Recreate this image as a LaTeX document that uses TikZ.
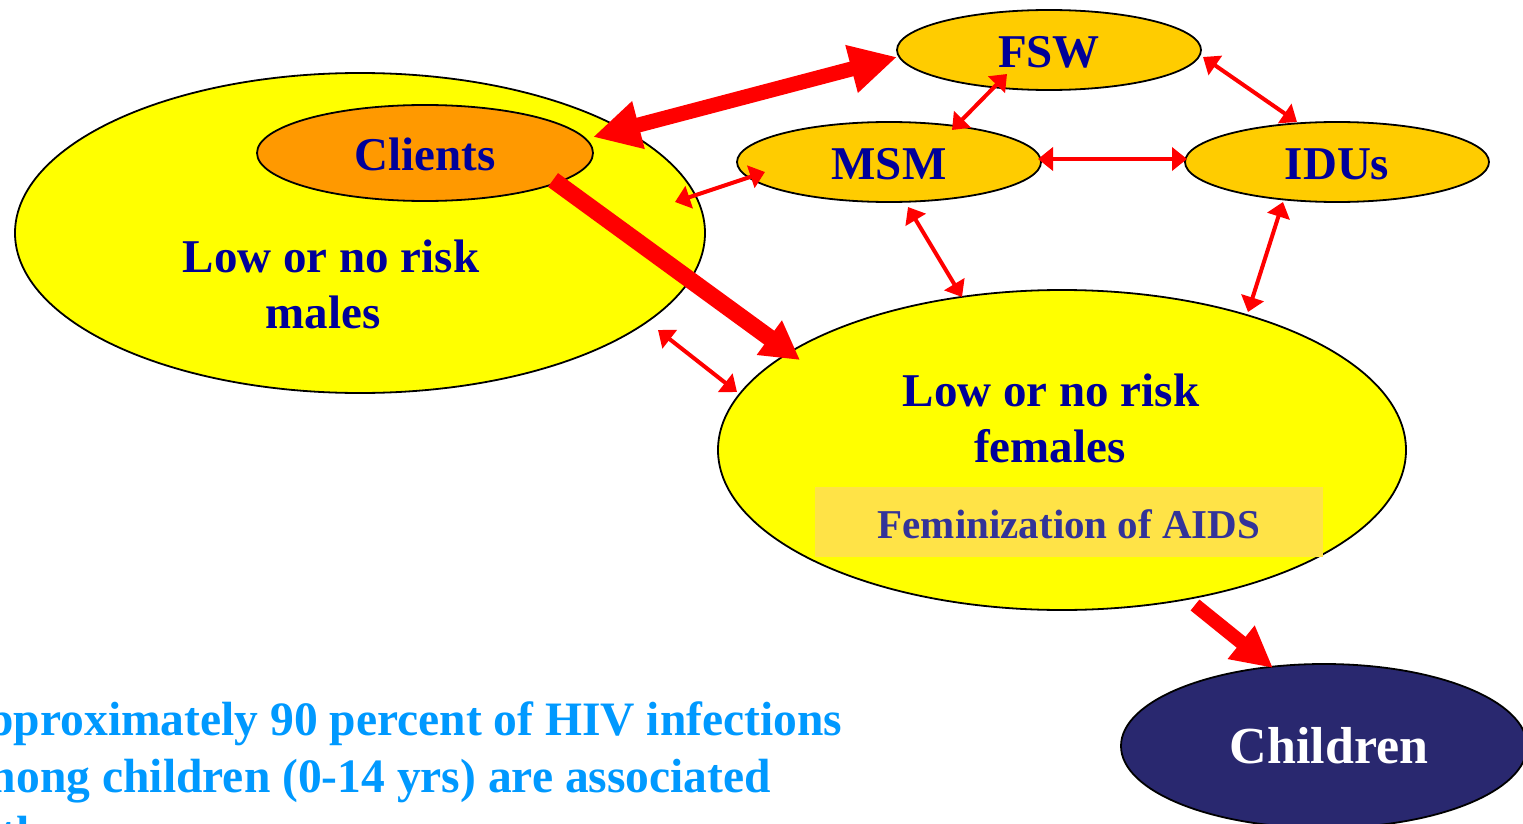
\documentclass[tikz,border=0pt]{standalone}
\usepackage{fontspec}
\setmainfont{Liberation Serif}
\newfontfamily\notefont[FakeStretch=0.99]{Liberation Serif}
\usetikzlibrary{shapes.geometric,arrows.meta,calc}

\definecolor{riskyellow}{HTML}{FFFF00}
\definecolor{groupgold}{HTML}{FFCC00}
\definecolor{clientorange}{HTML}{FF9900}
\definecolor{labelblue}{HTML}{000099}
\definecolor{childnavy}{HTML}{29286F}
\definecolor{femibox}{HTML}{FFE347}
\definecolor{femitext}{HTML}{333399}
\definecolor{notecyan}{HTML}{0099FF}

\tikzset{
  group/.style={ellipse, draw=black, line width=1.8pt, inner sep=0pt, outer sep=0pt},
  grouptext/.style={font=\fontsize{47}{56}\selectfont\bfseries, text=labelblue, anchor=base, inner sep=0pt},
  notetext/.style={font=\fontsize{48}{57}\selectfont\notefont\bfseries, text=notecyan, anchor=base west, inner sep=0pt},
  thinlink/.style={draw=red, line width=4pt, {Triangle[length=15pt,width=23pt]}-{Triangle[length=15pt,width=23pt]}},
}

\begin{document}
\begin{tikzpicture}[x=1pt, y=-1pt]
      \useasboundingbox (0,0) rectangle (1523,824);
      \clip (0,0) rectangle (1523,824);
      %
      \node[group, fill=riskyellow, minimum width=690, minimum height=320] (males) at (360,233) {};   % big left ellipse
      \node[group, fill=clientorange, minimum width=336, minimum height=96] (clients) at (425,153) {};
      \node[group, fill=groupgold, minimum width=304, minimum height=80] (fsw) at (1049,50) {};
      \node[group, fill=groupgold, minimum width=304, minimum height=80] (msm) at (889,162) {};
      \node[group, fill=groupgold, minimum width=304, minimum height=80] (idus) at (1337,162) {};
      \node[group, fill=riskyellow, minimum width=688, minimum height=320] (females) at (1062,450) {}; % big right ellipse
      \node[group, fill=childnavy, minimum width=406, minimum height=164] (children) at (1324,746) {};
      %
      \node[grouptext] (clientslbl) at (425,171) {Clients};
      \node[grouptext] (fswlbl) at (1049,68) {FSW};
      \node[grouptext] (msmlbl) at (889,179) {MSM};
      \node[grouptext] (iduslbl) at (1337,179) {IDUs};
      \node[grouptext] (maleslblA) at (331,272) {Low or no risk};
      \node[grouptext] (maleslblB) at (323,328) {males};
      \node[grouptext] (femaleslblA) at (1051,406) {Low or no risk};
      \node[grouptext] (femaleslblB) at (1050,462) {females};
      %
      \node[fill=femibox, minimum width=508, minimum height=70, inner sep=0pt] (femibox) at (1069,522) {};
      \node[font=\fontsize{41}{48}\selectfont\bfseries, text=femitext, anchor=base, inner sep=0pt] (femilbl) at (1069,538) {Feminization of AIDS};
      \node[font=\fontsize{52}{60}\selectfont\bfseries, text=white, anchor=base, inner sep=0pt] (childrenlbl) at (1329,763) {Children};
      %
      \node[notetext] (noteA) at (-47,735) {Approximately 90 percent of HIV infections};
      \node[notetext] (noteB) at (-47,792) {among children (0-14 yrs) are associated};
      \node[notetext] (noteC) at (-47,849) {with};
      %
      % thick flows
      \draw[red, line width=15pt, {Triangle[length=47pt,width=46pt]}-{Triangle[length=47pt,width=46pt]}]
            ($(clients)+(168,-16)$) -- ($(fsw)+(-152,7)$);
      \draw[red, line width=17pt, -{Triangle[length=38pt,width=40pt]}]
            ($(clients)+(128,27)$) -- ($(females)+(-262,-90)$);
      \draw[red, line width=14pt, -{Triangle[length=41pt,width=40pt]}]
            ($(females)+(133,155)$) -- ($(children)+(-51,-78)$);
      %
      % thin links
      \draw[thinlink] ($(males)+(315,-31)$) -- ($(msm)+(-124,10)$);
      \draw[thinlink] ($(males)+(298,97)$) -- ($(females)+(-325,-58)$);
      \draw[thinlink] ($(fsw)+(-42,24)$) -- ($(msm)+(63,-32)$);
      \draw[thinlink] ($(fsw)+(154,7)$) -- ($(idus)+(-40,-40)$);
      \draw[thinlink] ($(msm)+(149,-3)$) -- ($(idus)+(-150,-3)$);
      \draw[thinlink] ($(msm)+(19,45)$) -- ($(females)+(-100,-153)$);
      \draw[thinlink] ($(idus)+(-54,40)$) -- ($(females)+(186,-138)$);
\end{tikzpicture}
\end{document}
